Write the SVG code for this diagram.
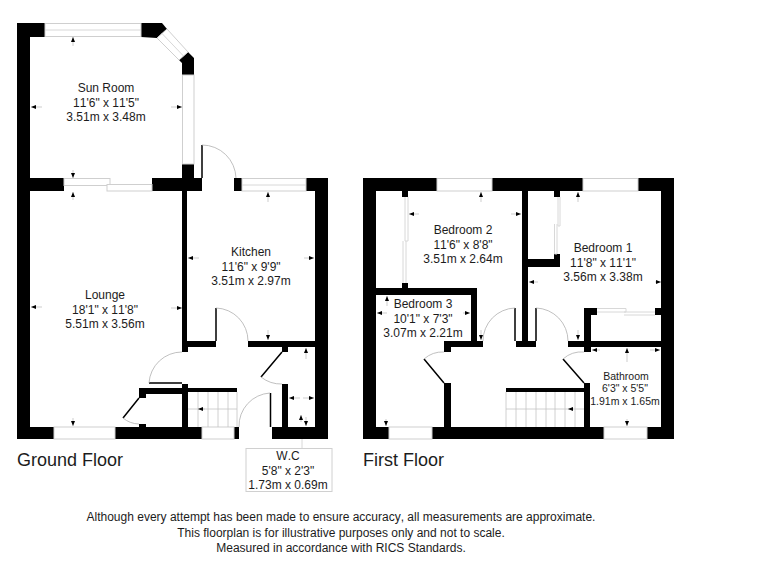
<svg xmlns="http://www.w3.org/2000/svg" width="768" height="576" viewBox="0 0 768 576">
<style>
text{font-family:"Liberation Sans",Arial,sans-serif;fill:#1c1c1c;text-anchor:middle;font-size:12px;font-kerning:none}
.w{fill:#000}
.win{fill:#fff;stroke:#cfcfcf;stroke-width:1}
.th{fill:none;stroke:#d8d8d8;stroke-width:1}
.arc{fill:none;stroke:#b0b0b0;stroke-width:.8}
.door{fill:none;stroke:#000;stroke-width:1.5}
.st{fill:none;stroke:#c4c4c4;stroke-width:.8}
.d{fill:none;stroke:#c0c0c0;stroke-width:.8;marker-end:url(#a)}
.fl{font-size:18px;text-anchor:start}
.sm{font-size:10.5px}
</style>
<defs><marker id="a" markerUnits="userSpaceOnUse" markerWidth="6" markerHeight="6" refX="5" refY="2" orient="auto"><path d="M0 0L5 2L0 4Z" fill="#000"/></marker></defs>
<rect width="768" height="576" fill="#fff"/>
<g id="ground-floor-walls">
<path class="w" d="M17 23H45V37H30V178H64V191H30V427H54V439H17Z"/>
<path class="w" d="M141 23H162L167 29L157 38L141 37Z"/>
<path class="w" d="M188 52L194 58V75H182V63L179 60Z"/>
<path class="w" d="M182 164H194V178H202V191H187V341H216V347H188V352H182V191H152V178H182Z"/>
<path class="w" d="M234 178H242V191H234Z"/>
<path class="w" d="M306 178H328V439H272V427H282V384H288V427H315V347H288V352H282V347H248V341H315V191H306Z"/>
<path class="w" d="M139 388H182V384H188V388H237V392H188V427H202V439H115V427H139V424H146V427H182V394H146V398H139Z"/>
<path class="w" d="M234 427H239V439H234Z"/>
</g>
<g id="ground-floor-windows">
<rect class="win" x="45" y="23.500" width="96" height="13"/><path class="th" d="M45 30H141"/>
<path class="win" d="M167 29L188 52L179 60L157 38Z"/><path class="th" d="M162 33.500L183.500 56"/>
<rect class="win" x="182.500" y="75" width="11.500" height="89"/>
<rect class="win" x="64" y="178.500" width="46" height="7"/><rect class="win" x="107" y="184.500" width="45" height="6.500"/>
<rect class="win" x="242" y="178.500" width="64" height="12.500"/><path class="th" d="M242 185H306"/>
<rect class="win" x="54" y="427" width="61" height="12"/>
<rect class="win" x="202" y="427" width="32" height="12"/>
</g>
<g id="ground-floor-doors">
<path class="door" d="M202 145V178M216 308V341M149 383H182M139 398L123 418M282 352L261 377M270.500 393V427"/>
<path class="arc" d="M202 145A34 34 0 0 1 236 178M216 308A33 33 0 0 1 248 341M149 383A33 33 0 0 1 182 352M123 418A26 26 0 0 0 139 424M261 377A32 32 0 0 0 282 384M270 393A33 33 0 0 0 239 427"/>
</g>
<g id="ground-floor-stairs">
<path class="st" d="M198 392V427M208 392V427M218 392V427M228 392V427M237 392V427M188 409H237"/>
</g>
<g id="first-floor-walls">
<path class="w" d="M363 178H437V191H408V197H402V191H376V288H402V283H408V288H477V341H483V347H451V352H444V341H471V295H376V427H389V439H363Z"/>
<path class="w" d="M492 178H583V191H560V197H554V191H528V259H554V254H560V267H528V341H536V347H516V341H522V191H492Z"/>
<path class="w" d="M638 178H674V439H647V427H661V347H591V352H584V347H568V341H584V308H597V315H591V341H661V315H655V308H661V191H638Z"/>
<path class="w" d="M432 427H444V383H451V427H584V383H590V427H604V439H432Z"/>
<path class="w" d="M506 388H584V392H506Z"/>
</g>
<g id="first-floor-windows">
<rect class="win" x="437" y="178.500" width="55" height="12.500"/>
<rect class="win" x="583" y="178.500" width="55" height="12.500"/>
<rect class="win" x="389" y="427" width="43" height="12"/>
<rect class="win" x="604" y="427" width="43" height="12"/>
<path class="th" d="M405 197V241H408V197M403 241V283M406 241V283"/>
<path class="th" d="M558 197V226H560V197M554.500 224V254H557V224"/>
<path class="th" d="M597 308.500H626V312H597M624 312H655M624 315H655"/>
</g>
<g id="first-floor-doors">
<path class="door" d="M515 308V341M536 308V341M424 359L444 383M563 359L584 383"/>
<path class="arc" d="M515 308A33 33 0 0 0 483 341M536 308A33 33 0 0 1 568 341M424 359A28 28 0 0 1 444 352M563 359A28 28 0 0 1 584 352"/>
</g>
<g id="first-floor-stairs">
<path class="st" d="M506 392V427M516 392V427M526 392V427M536 392V427M546 392V427M555 392V427M565 392V427M575 392V427M506 409H584"/>
</g>
<g id="connectors">
<path class="d" d="M73 46V37"/><path class="d" d="M42 107H31"/><path class="d" d="M171 107H182"/><path class="d" d="M73 170V178"/><path class="d" d="M73 200V192"/>
<path class="d" d="M42 307H31"/><path class="d" d="M171 308H182"/><path class="d" d="M73 418V426"/>
<path class="d" d="M268 202V192"/><path class="d" d="M199 258H188"/><path class="d" d="M304 258H314"/><path class="d" d="M268 330V340"/>
<path class="d" d="M306 359V348"/><path class="d" d="M300 398H289"/><path class="d" d="M303 398H314"/><path class="d" d="M306 417V426"/><path class="d" d="M301 422V415"/><path class="d" d="M205 409H198"/>
<path class="d" d="M481 202V192"/><path class="d" d="M419 214H409"/><path class="d" d="M511 214H521"/><path class="d" d="M481 330V340"/>
<path class="d" d="M387 306V296"/><path class="d" d="M387 313H377"/><path class="d" d="M463 313H470"/><path class="d" d="M386 419V426"/>
<path class="d" d="M578 202V192"/><path class="d" d="M538 282H529"/><path class="d" d="M655 282H661"/><path class="d" d="M578 330V340"/>
<path class="d" d="M600 350H592"/><path class="d" d="M650 350H660"/><path class="d" d="M627 362V348"/><path class="d" d="M627 419V426"/><path class="d" d="M573 409H568"/>
<path class="th" d="M302 439V448"/>
</g>
<g id="sun-room"><text x="106" y="92">Sun Room</text><text x="106" y="106.500">11'6" x 11'5"</text><text x="106" y="121">3.51m x 3.48m</text></g>
<g id="lounge"><text x="105" y="299">Lounge</text><text x="105" y="313.500">18'1" x 11'8"</text><text x="105" y="328">5.51m x 3.56m</text></g>
<g id="kitchen"><text x="251" y="256">Kitchen</text><text x="251" y="270.500">11'6" x 9'9"</text><text x="251" y="285">3.51m x 2.97m</text></g>
<g id="wc"><rect x="246" y="448.500" width="86" height="43" fill="#fff" stroke="#d0d0d0"/><text x="288" y="460">W.C</text><text x="288" y="475">5'8" x 2'3"</text><text x="288" y="489">1.73m x 0.69m</text></g>
<g id="bedroom-2"><text x="463" y="234">Bedroom 2</text><text x="463" y="248.500">11'6" x 8'8"</text><text x="463" y="263">3.51m x 2.64m</text></g>
<g id="bedroom-3"><text x="423" y="308">Bedroom 3</text><text x="423" y="322.500">10'1" x 7'3"</text><text x="423" y="337">3.07m x 2.21m</text></g>
<g id="bedroom-1"><text x="603" y="252">Bedroom 1</text><text x="603" y="266.500">11'8" x 11'1"</text><text x="603" y="281">3.56m x 3.38m</text></g>
<g id="bathroom"><text class="sm" x="626" y="380">Bathroom</text><text class="sm" x="625" y="392">6'3" x 5'5"</text><text class="sm" x="625" y="405">1.91m x 1.65m</text></g>
<g id="titles"><text class="fl" x="17" y="466">Ground Floor</text><text class="fl" x="363" y="466">First Floor</text></g>
<g id="disclaimer"><text x="341" y="521">Although every attempt has been made to ensure accuracy, all measurements are approximate.</text><text x="341" y="537">This floorplan is for illustrative purposes only and not to scale.</text><text x="341" y="552">Measured in accordance with RICS Standards.</text></g>
</svg>
